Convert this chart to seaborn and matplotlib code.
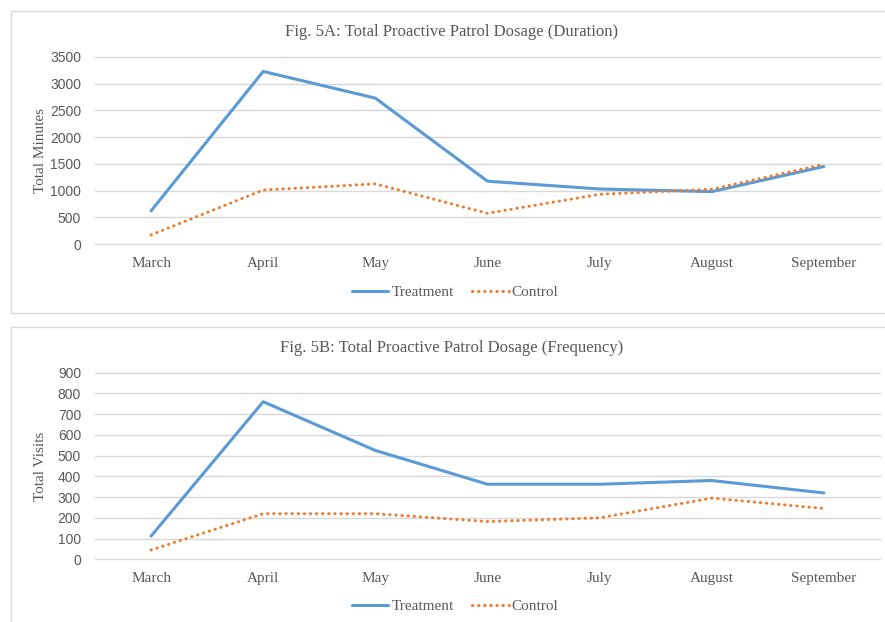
import matplotlib.pyplot as plt
from matplotlib.patches import Rectangle
import seaborn as sns
import pandas as pd

months = ['March', 'April', 'May', 'June', 'July', 'August', 'September']
groups = ['Treatment', 'Control']

# Fig. 5A - total minutes
duration_treatment = [620, 3230, 2730, 1175, 1030, 980, 1450]
duration_control = [170, 1010, 1125, 575, 930, 1025, 1490]

# Fig. 5B - total visits
visits_treatment = [112, 760, 525, 362, 362, 380, 320]
visits_control = [45, 220, 220, 182, 200, 295, 245]

palette = {'Treatment': '#5B9BD5', 'Control': '#ED7D31'}
TEXT = '#595959'
GRID = '#D9D9D9'
SERIF = 'Liberation Serif'
SANS = 'Liberation Sans'

W, H = 885, 622


def longFrame(treat, ctrl):
    return pd.DataFrame({
        'Month': months * 2,
        'Group': ['Treatment'] * len(months) + ['Control'] * len(months),
        'Value': list(treat) + list(ctrl),
    })


def drawPanel(fig, top_px, bottom_px, frame, title, ylabel, ymax, step, title_px, legend_px):
    left_px, right_px = 95, 880
    ax = fig.add_axes([left_px / W, 1 - bottom_px / H,
                       (right_px - left_px) / W, (bottom_px - top_px) / H])
    sns.lineplot(data=frame, x='Month', y='Value', hue='Group', hue_order=groups,
                 palette=palette, sort=False, linewidth=2.2, legend=False, ax=ax)
    treatLine, ctrlLine = ax.lines[:2]
    treatLine.set_solid_capstyle('round')
    ctrlLine.set_dashes((0.1, 1.9))
    ctrlLine.set_dash_capstyle('round')

    ax.set_xlim(-0.5, len(months) - 0.5)
    ax.set_ylim(0, ymax)
    ax.set_yticks(range(0, ymax + 1, step))
    ax.grid(axis='y', color=GRID, linewidth=1.0)
    ax.grid(axis='x', visible=False)
    for gl in ax.get_ygridlines():
        gl.set_clip_on(False)
    ax.set_axisbelow(True)
    for s in ax.spines.values():
        s.set_visible(False)
    ax.tick_params(axis='y', length=0, pad=10, labelcolor=TEXT)
    ax.tick_params(axis='x', length=0, pad=9, labelcolor=TEXT)
    for t in ax.get_yticklabels():
        t.set_fontfamily(SANS)
        t.set_fontsize(10)
    for t in ax.get_xticklabels():
        t.set_fontfamily(SERIF)
        t.set_fontsize(11)
    ax.set_xlabel('')
    ax.set_ylabel(ylabel, family=SERIF, fontsize=11, color=TEXT)
    ax.yaxis.set_label_coords(-0.061, 0.5)

    fig.text(452 / W, 1 - title_px / H, title, ha='center', va='center',
             family=SERIF, fontsize=12, color=TEXT)
    ax.legend(handles=ax.lines[:2], labels=groups, ncol=2, frameon=False,
              loc='center', bbox_to_anchor=(455 / W, 1 - legend_px / H),
              bbox_transform=fig.transFigure, handlelength=2.4, handletextpad=0.2,
              columnspacing=1.2, prop={'family': SERIF, 'size': 11}, labelcolor=TEXT)
    return ax


sns.set_style('white')
fig = plt.figure(figsize=(W / 100, H / 100), dpi=100)

# panel frames
fig.add_artist(Rectangle((11 / W, 1 - 313 / H), (W - 11 + 5) / W, 302 / H,
                         transform=fig.transFigure, fill=False, edgecolor=GRID, linewidth=1.0))
fig.add_artist(Rectangle((11 / W, -0.02), (W - 11 + 5) / W, 1 - 327 / H + 0.02,
                         transform=fig.transFigure, fill=False, edgecolor=GRID, linewidth=1.0))

drawPanel(fig, 57, 244, longFrame(duration_treatment, duration_control),
          'Fig. 5A: Total Proactive Patrol Dosage (Duration)', 'Total Minutes',
          3500, 500, 32, 292)
drawPanel(fig, 372.7, 559.3, longFrame(visits_treatment, visits_control),
          'Fig. 5B: Total Proactive Patrol Dosage (Frequency)', 'Total Visits',
          900, 100, 348, 606)

fig.savefig('out.png', dpi=100)
